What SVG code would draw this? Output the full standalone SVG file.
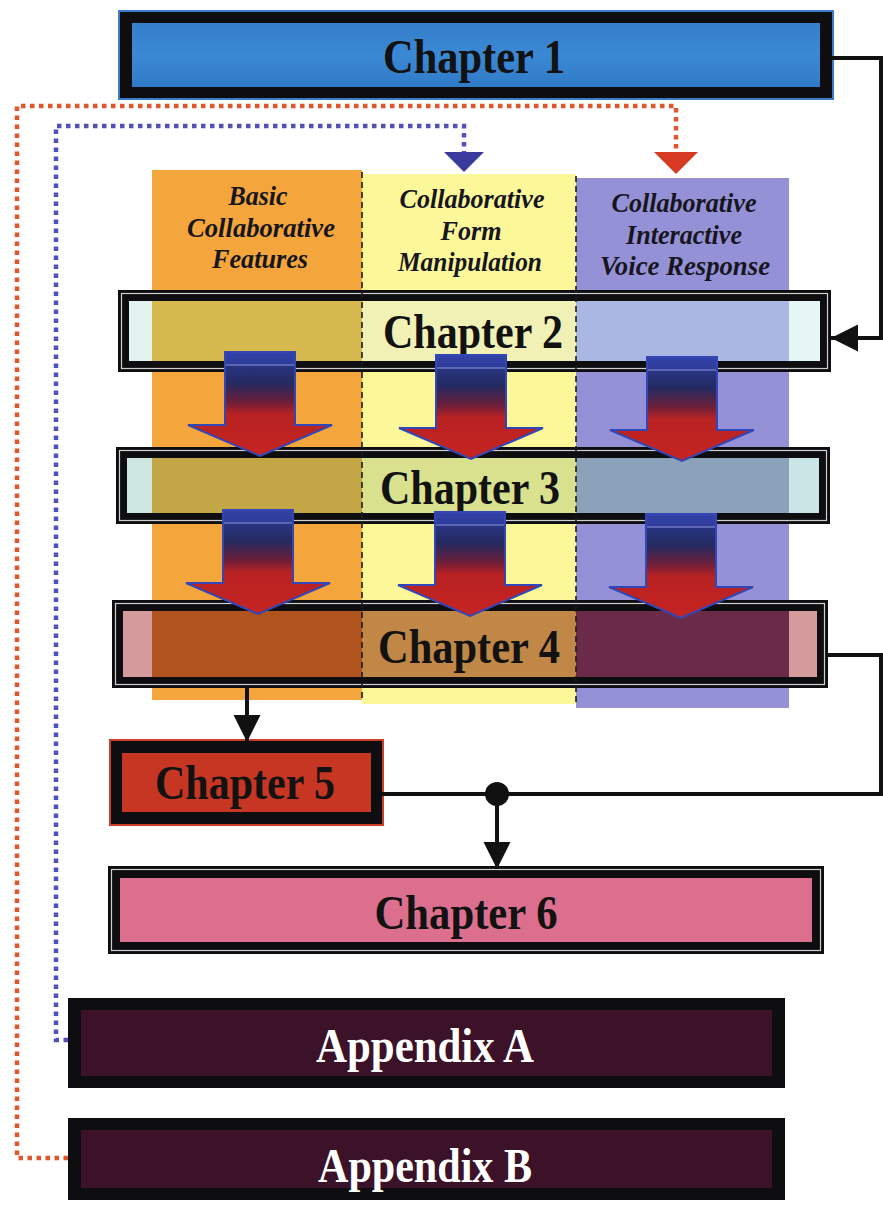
<svg xmlns="http://www.w3.org/2000/svg" width="883" height="1210" viewBox="0 0 883 1210">
  <style>
    .frame { fill: #0e0d0f; }
    .rim { fill: none; stroke: #cfcfcf; stroke-width: 1.2; }
    .label { font-family: "Liberation Serif", "Times New Roman", serif; font-weight: bold; font-size: 48px; text-anchor: middle; fill: #121212; }
    .label-light { fill: #ffffff; }
    .head { font-family: "Liberation Serif", "Times New Roman", serif; font-style: italic; font-weight: bold; font-size: 27px; text-anchor: middle; fill: #17161f; }
    .sep { fill: none; stroke: #1c1c1c; stroke-width: 1.6; stroke-dasharray: 6 4; }
    .conn { fill: none; stroke: #111; stroke-width: 4; }
    .dotted-red { fill: none; stroke: #e0562e; stroke-width: 4.5; stroke-dasharray: 4.5 4.5; }
    .dotted-blue { fill: none; stroke: #5252b6; stroke-width: 4.5; stroke-dasharray: 4.5 4.5; }
    .big-arrow { fill: url(#arrowGrad); stroke: #3346b5; stroke-width: 2; }
  </style>
  <defs>
    <linearGradient id="blueFill" x1="0" y1="0" x2="0" y2="1">
      <stop offset="0" stop-color="#347fcc"/>
      <stop offset="0.5" stop-color="#3b88d4"/>
      <stop offset="1" stop-color="#307bc8"/>
    </linearGradient>
    <linearGradient id="arrowGrad" x1="0" y1="0" x2="0" y2="1">
      <stop offset="0" stop-color="#3342a8"/>
      <stop offset="0.11" stop-color="#2f3c9c"/>
      <stop offset="0.14" stop-color="#283480"/>
      <stop offset="0.3" stop-color="#242a60"/>
      <stop offset="0.48" stop-color="#6c1f3a"/>
      <stop offset="0.6" stop-color="#b82222"/>
      <stop offset="1" stop-color="#c62422"/>
    </linearGradient>
    <g id="bigArrow">
      <path class="big-arrow" d="M-35,0 H35 V73 H72 L0,104 L-72,73 H-35 Z"/>
      <path d="M-34,13 H34" stroke="#8d98d8" stroke-width="1"/>
    </g>
    <marker id="headBlack" viewBox="0 0 10 10" refX="10" refY="5" markerWidth="27" markerHeight="28" markerUnits="userSpaceOnUse" orient="auto">
      <path d="M0,0 L10,5 L0,10 Z" fill="#111"/>
    </marker>
    <marker id="headRed" viewBox="0 0 22 44" refX="0" refY="22" markerWidth="22" markerHeight="44" markerUnits="userSpaceOnUse" orient="auto">
      <path d="M0,0 L22,22 L0,44 Z" fill="#d63a22"/>
    </marker>
    <marker id="headBlue" viewBox="0 0 20 40" refX="0" refY="20" markerWidth="20" markerHeight="40" markerUnits="userSpaceOnUse" orient="auto">
      <path d="M0,0 L20,20 L0,40 Z" fill="#3a3a9c"/>
    </marker>
  </defs>

  <rect width="883" height="1210" fill="#ffffff"/>

  <!-- three feature columns -->
  <g id="columns">
    <rect x="152" y="170" width="210" height="530" fill="#f4a63c"/>
    <rect x="362" y="174" width="214" height="530" fill="#fcf89a"/>
    <rect x="576" y="178" width="213" height="530" fill="#9591d6"/>
    <text class="head"><tspan x="258" y="205" textLength="59" lengthAdjust="spacingAndGlyphs">Basic</tspan><tspan x="261" y="237" textLength="148" lengthAdjust="spacingAndGlyphs">Collaborative</tspan><tspan x="260" y="268" textLength="96" lengthAdjust="spacingAndGlyphs">Features</tspan></text>
    <text class="head"><tspan x="472" y="208" textLength="145" lengthAdjust="spacingAndGlyphs">Collaborative</tspan><tspan x="471" y="240" textLength="61" lengthAdjust="spacingAndGlyphs">Form</tspan><tspan x="470" y="271" textLength="144" lengthAdjust="spacingAndGlyphs">Manipulation</tspan></text>
    <text class="head"><tspan x="684" y="212" textLength="145" lengthAdjust="spacingAndGlyphs">Collaborative</tspan><tspan x="684" y="244" textLength="116" lengthAdjust="spacingAndGlyphs">Interactive</tspan><tspan x="685" y="275" textLength="170" lengthAdjust="spacingAndGlyphs">Voice Response</tspan></text>
  </g>

  <g id="chapter2">
    <rect class="frame" x="118" y="290" width="713" height="82"/>
    <rect class="rim" x="121.5" y="293.5" width="706" height="75"/>
    <rect x="129" y="301" width="23" height="60" fill="#e2f2ef"/>
    <rect x="152" y="301" width="210" height="60" fill="#d6b94e"/>
    <rect x="362" y="301" width="214" height="60" fill="#f1f1b6"/>
    <rect x="576" y="301" width="213" height="60" fill="#aab7e2"/>
    <rect x="789" y="301" width="31" height="60" fill="#e6f6f7"/>
    <text class="label" x="473" y="348" textLength="180" lengthAdjust="spacingAndGlyphs">Chapter 2</text>
  </g>

  <g id="chapter3">
    <rect class="frame" x="116" y="447" width="714" height="77"/>
    <rect class="rim" x="119.5" y="450.5" width="707" height="70"/>
    <rect x="127" y="458" width="25" height="55" fill="#cde7e0"/>
    <rect x="152" y="458" width="210" height="55" fill="#c3a746"/>
    <rect x="362" y="458" width="214" height="55" fill="#d9e18f"/>
    <rect x="576" y="458" width="213" height="55" fill="#8ca2ba"/>
    <rect x="789" y="458" width="30" height="55" fill="#c9e5e6"/>
    <text class="label" x="470" y="504" textLength="180" lengthAdjust="spacingAndGlyphs">Chapter 3</text>
  </g>

  <g id="chapter4">
    <rect class="frame" x="112" y="600" width="716" height="88"/>
    <rect class="rim" x="115.5" y="603.5" width="709" height="81"/>
    <rect x="123" y="611" width="29" height="66" fill="#d59a9b"/>
    <rect x="152" y="611" width="210" height="66" fill="#b1531f"/>
    <rect x="362" y="611" width="214" height="66" fill="#c08746"/>
    <rect x="576" y="611" width="213" height="66" fill="#6b2a48"/>
    <rect x="789" y="611" width="28" height="66" fill="#d49a9c"/>
    <text class="label" x="469" y="663" textLength="182" lengthAdjust="spacingAndGlyphs">Chapter 4</text>
  </g>

  <!-- dashed column separators -->
  <g id="separators">
    <path class="sep" d="M362,172 V702"/>
    <path class="sep" d="M576,176 V706"/>
  </g>

  <!-- chapter-to-chapter flow arrows inside the columns -->
  <g id="flow-arrows">
    <use href="#bigArrow" x="260" y="352"/>
    <use href="#bigArrow" x="471" y="355"/>
    <use href="#bigArrow" x="682" y="357"/>
    <use href="#bigArrow" x="258" y="510"/>
    <use href="#bigArrow" x="470" y="512"/>
    <use href="#bigArrow" x="681" y="514"/>
  </g>

  <g id="chapter1">
    <rect x="118" y="10" width="716" height="90" fill="#3a7cc8"/>
    <rect class="frame" x="120" y="12" width="712" height="86"/>
    <rect x="132" y="23" width="688" height="64" fill="url(#blueFill)"/>
    <text class="label" x="474" y="73" textLength="182" lengthAdjust="spacingAndGlyphs">Chapter 1</text>
  </g>

  <g id="chapter5">
    <rect x="109" y="739" width="275" height="87" fill="#c8402a"/>
    <rect class="frame" x="111" y="741" width="271" height="83"/>
    <rect x="122" y="753" width="249" height="59" fill="#c73622"/>
    <text class="label" x="245" y="799" textLength="180" lengthAdjust="spacingAndGlyphs">Chapter 5</text>
  </g>

  <g id="chapter6">
    <rect class="frame" x="108" y="866" width="716" height="88"/>
    <rect class="rim" x="111.5" y="869.5" width="709" height="81"/>
    <rect x="120" y="878" width="692" height="64" fill="#dd6f8e"/>
    <text class="label" x="466" y="929" textLength="183" lengthAdjust="spacingAndGlyphs">Chapter 6</text>
  </g>

  <g id="appendixA">
    <rect class="frame" x="68" y="998" width="717" height="90"/>
    <rect x="81" y="1010" width="691" height="66" fill="#3b1227"/>
    <text class="label label-light" x="425" y="1062" textLength="218" lengthAdjust="spacingAndGlyphs">Appendix A</text>
  </g>

  <g id="appendixB">
    <rect class="frame" x="68" y="1118" width="717" height="82"/>
    <rect x="81" y="1130" width="691" height="58" fill="#3b1227"/>
    <text class="label label-light" x="425" y="1182" textLength="214" lengthAdjust="spacingAndGlyphs">Appendix B</text>
  </g>

  <g id="connectors">
    <path class="conn" d="M832,58 H881 V338 H831" marker-end="url(#headBlack)"/>
    <path class="conn" d="M247,688 V742" marker-end="url(#headBlack)"/>
    <path class="conn" d="M828,655 H881 V794 H382"/>
    <path class="conn" d="M497,794 V869" marker-end="url(#headBlack)"/>
    <circle cx="497" cy="794" r="12" fill="#111"/>
    <path class="dotted-red" d="M68,1158 H17 V106 H676 V152" marker-end="url(#headRed)"/>
    <path class="dotted-blue" d="M68,1040 H56 V126 H464 V152" marker-end="url(#headBlue)"/>
  </g>
</svg>
